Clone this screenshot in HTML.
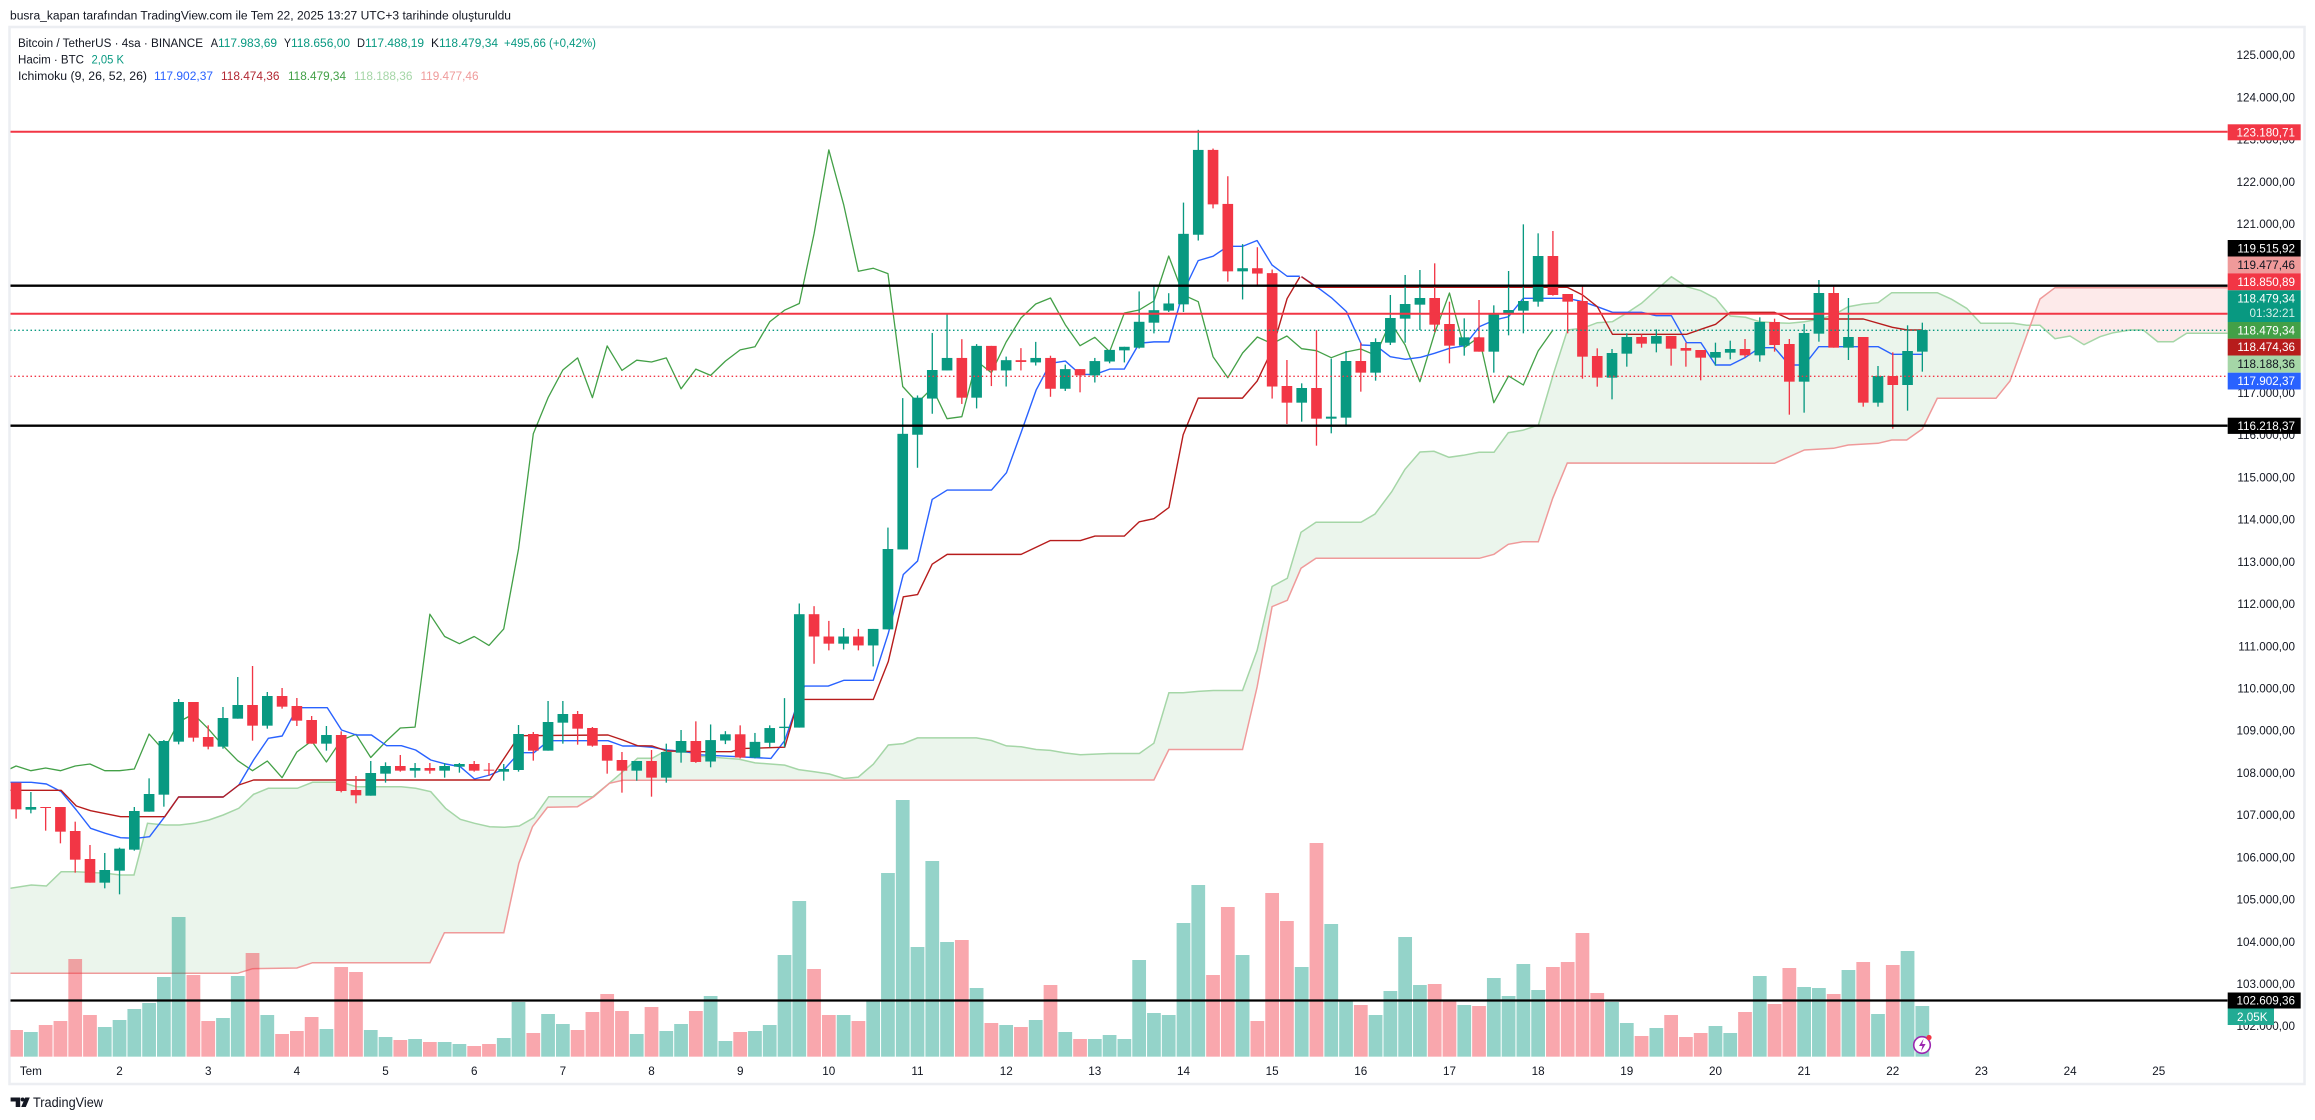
<!DOCTYPE html>
<html><head><meta charset="utf-8"><style>
html,body{margin:0;padding:0;background:#fff;}
svg{display:block;font-family:"Liberation Sans",sans-serif;}
</style></head><body>
<svg width="2315" height="1120" viewBox="0 0 2315 1120" xmlns="http://www.w3.org/2000/svg">
<defs><clipPath id="pc"><rect x="10.5" y="28" width="2217" height="1034"/></clipPath></defs>
<rect width="2315" height="1120" fill="#fff"/>
<rect x="9.5" y="27" width="2295" height="1057" fill="none" stroke="#eceef2" stroke-width="2.5"/>

<g clip-path="url(#pc)">
<!-- cloud fills -->
<polygon fill="#ebf5ec" points="10,888.3 31.3,885 46.4,886 61.2,871.7 76.3,871.7 105.4,873.3 120.5,875 134,875 147.5,823.3 164.7,825 179.5,825 194.2,823.3 208.9,820 223.2,815 238.8,808.3 253.6,794.3 268.3,788.3 297.3,788.3 312.5,782.3 341.5,782.3 356.3,786.7 401.3,786.7 415.6,788.3 430.8,791.7 445.5,808.3 460.3,819.3 474.6,823.3 489.7,826.7 504.5,827.3 519.2,826 533.9,817.7 548.7,796.7 592.9,796.7 608,784.3 622.8,771.7 637.5,758.3 652.2,758.3 667,750 696.4,753 699.8,756.2 739.3,759.3 755.1,762.9 784.7,765.1 798.6,769.6 814.4,771.8 829.4,774 844,778.5 858.3,777.1 873.3,764.2 888.3,745 903.3,743.6 917.5,737.9 976.4,737.9 991.5,740.5 1006.5,745.9 1021.1,746.8 1036.1,749.5 1050.4,750.4 1065.4,753 1080.4,754.8 1109.6,753.5 1139.3,753.5 1153.9,743.2 1168.9,692.8 1183.2,692.8 1198.2,691.4 1213.2,690.5 1242.5,690.5 1257.1,650.4 1272.1,586.5 1287.3,578.3 1301,532.3 1316,522.3 1361,522.3 1375,514 1391.7,491.7 1405,469.3 1420,452 1434,451.3 1449,457.3 1463.3,455.3 1479,452.3 1494,452.3 1508.3,432.7 1522.7,430.3 1538.4,425 1553.6,373.3 1567.5,330 1582.6,328.3 1597.3,322.7 1612.5,321.7 1626.4,313.3 1641.5,303.3 1656.3,290 1671.4,276.7 1686.6,286.7 1700.9,290.7 1715.6,298.3 1730.3,316 1745.5,317.3 1759.8,321.7 1774.5,322.7 1789.3,323.3 1804.4,321.7 1818.7,319.3 1833.5,315 1848.2,306.7 1863.3,304 1878.1,302.7 1891.7,292.7 1937.3,292.7 1951.7,299.3 1966.7,308.3 1980.7,323.3 2013.3,323.3 2026.7,325.3 2030.7,325 2010,381 1996,398.3 1937.3,398.3 1922.3,429 1906.7,440 1891.7,440 1878.1,443.3 1848.2,445 1833.5,448.3 1804.4,450 1789.3,456.7 1774.5,463.3 1567.3,463 1552.7,498.3 1538.3,541.7 1522.7,541.7 1508.3,544.3 1494,554.3 1479.3,558.3 1316,558.3 1301,568.3 1287.3,600.3 1272.1,606.6 1257.1,687 1242.5,749.5 1168.9,749.5 1153.9,780 622.8,780.3 609.4,783.3 593.8,796.7 577.5,806.7 547.5,807.3 532.5,826.7 518.8,863.3 503.8,932.7 444.4,932.7 430,962.7 312.5,962.7 296.9,968 252.5,968.7 237.5,973.3 10,973.3"/>
<polygon fill="#fdeaea" points="2030.7,325 2040,325.3 2055,338.7 2070,336 2084,344.7 2100,336.7 2113.3,332.7 2130,330 2143.3,330 2157.7,341.7 2173.3,341.7 2186.7,333.3 2228,333.3 2228,287.7 2055,287.7 2040,299"/>
<polyline fill="none" stroke="#a5d6a7" stroke-width="1.5" points="10,888.3 31.3,885 46.4,886 61.2,871.7 76.3,871.7 105.4,873.3 120.5,875 134,875 147.5,823.3 164.7,825 179.5,825 194.2,823.3 208.9,820 223.2,815 238.8,808.3 253.6,794.3 268.3,788.3 297.3,788.3 312.5,782.3 341.5,782.3 356.3,786.7 401.3,786.7 415.6,788.3 430.8,791.7 445.5,808.3 460.3,819.3 474.6,823.3 489.7,826.7 504.5,827.3 519.2,826 533.9,817.7 548.7,796.7 592.9,796.7 608,784.3 622.8,771.7 637.5,758.3 652.2,758.3 667,750 696.4,753 699.8,756.2 739.3,759.3 755.1,762.9 784.7,765.1 798.6,769.6 814.4,771.8 829.4,774 844,778.5 858.3,777.1 873.3,764.2 888.3,745 903.3,743.6 917.5,737.9 976.4,737.9 991.5,740.5 1006.5,745.9 1021.1,746.8 1036.1,749.5 1050.4,750.4 1065.4,753 1080.4,754.8 1109.6,753.5 1139.3,753.5 1153.9,743.2 1168.9,692.8 1183.2,692.8 1198.2,691.4 1213.2,690.5 1242.5,690.5 1257.1,650.4 1272.1,586.5 1287.3,578.3 1301,532.3 1316,522.3 1361,522.3 1375,514 1391.7,491.7 1405,469.3 1420,452 1434,451.3 1449,457.3 1463.3,455.3 1479,452.3 1494,452.3 1508.3,432.7 1522.7,430.3 1538.4,425 1553.6,373.3 1567.5,330 1582.6,328.3 1597.3,322.7 1612.5,321.7 1626.4,313.3 1641.5,303.3 1656.3,290 1671.4,276.7 1686.6,286.7 1700.9,290.7 1715.6,298.3 1730.3,316 1745.5,317.3 1759.8,321.7 1774.5,322.7 1789.3,323.3 1804.4,321.7 1818.7,319.3 1833.5,315 1848.2,306.7 1863.3,304 1878.1,302.7 1891.7,292.7 1937.3,292.7 1951.7,299.3 1966.7,308.3 1980.7,323.3 2013.3,323.3 2026.7,325.3 2040,325.3 2055,338.7 2070,336 2084,344.7 2100,336.7 2113.3,332.7 2130,330 2143.3,330 2157.7,341.7 2173.3,341.7 2186.7,333.3 2228,333.3"/>
<polyline fill="none" stroke="#ef9a9a" stroke-width="1.5" points="10,973.3 237.5,973.3 252.5,968.7 296.9,968 312.5,962.7 430,962.7 444.4,932.7 503.8,932.7 518.8,863.3 532.5,826.7 547.5,807.3 577.5,806.7 593.8,796.7 609.4,783.3 622.8,780.3 1153.9,780 1168.9,749.5 1242.5,749.5 1257.1,687 1272.1,606.6 1287.3,600.3 1301,568.3 1316,558.3 1479.3,558.3 1494,554.3 1508.3,544.3 1522.7,541.7 1538.3,541.7 1552.7,498.3 1567.3,463 1774.5,463.3 1789.3,456.7 1804.4,450 1833.5,448.3 1848.2,445 1878.1,443.3 1891.7,440 1906.7,440 1922.3,429 1937.3,398.3 1996,398.3 2010,381 2040,299 2055,287.7 2228,287.7"/>

<!-- volume -->
<g transform="matrix(14.777 0 0 0.333333 16.1 780)">
<g fill="#f23645" fill-opacity="0.44">
<rect x="-.465" y="750" width=".93" height="80"/><rect x="1.535" y="735" width=".93" height="95"/><rect x="2.535" y="723" width=".93" height="107"/><rect x="3.535" y="537" width=".93" height="293"/><rect x="4.535" y="705" width=".93" height="125"/><rect x="11.535" y="585" width=".93" height="245"/><rect x="12.535" y="723" width=".93" height="107"/><rect x="15.535" y="519" width=".93" height="311"/><rect x="17.535" y="762" width=".93" height="68"/><rect x="18.535" y="753" width=".93" height="77"/><rect x="19.535" y="711" width=".93" height="119"/><rect x="21.535" y="561" width=".93" height="269"/><rect x="22.535" y="576" width=".93" height="254"/><rect x="25.535" y="780" width=".93" height="50"/><rect x="27.535" y="786" width=".93" height="44"/><rect x="30.535" y="798" width=".93" height="32"/><rect x="31.535" y="792" width=".93" height="38"/><rect x="34.535" y="759" width=".93" height="71"/><rect x="37.535" y="750" width=".93" height="80"/><rect x="38.535" y="696" width=".93" height="134"/><rect x="39.535" y="642" width=".93" height="188"/><rect x="40.535" y="693" width=".93" height="137"/><rect x="42.535" y="681" width=".93" height="149"/><rect x="45.535" y="693" width=".93" height="137"/><rect x="48.535" y="756" width=".93" height="74"/><rect x="53.535" y="567" width=".93" height="263"/><rect x="54.535" y="705" width=".93" height="125"/><rect x="56.535" y="723" width=".93" height="107"/><rect x="63.535" y="480" width=".93" height="350"/><rect x="65.535" y="729" width=".93" height="101"/><rect x="67.535" y="741" width=".93" height="89"/><rect x="69.535" y="615" width=".93" height="215"/><rect x="71.535" y="777" width=".93" height="53"/><rect x="80.535" y="585" width=".93" height="245"/><rect x="81.535" y="381" width=".93" height="449"/><rect x="83.535" y="723" width=".93" height="107"/><rect x="84.535" y="339" width=".93" height="491"/><rect x="85.535" y="423" width=".93" height="407"/><rect x="87.535" y="189" width=".93" height="641"/><rect x="90.535" y="675" width=".93" height="155"/><rect x="95.535" y="612" width=".93" height="218"/><rect x="96.535" y="660" width=".93" height="170"/><rect x="98.535" y="678" width=".93" height="152"/><rect x="103.535" y="561" width=".93" height="269"/><rect x="104.535" y="546" width=".93" height="284"/><rect x="105.535" y="459" width=".93" height="371"/><rect x="106.535" y="639" width=".93" height="191"/><rect x="109.535" y="768" width=".93" height="62"/><rect x="111.535" y="705" width=".93" height="125"/><rect x="112.535" y="771" width=".93" height="59"/><rect x="113.535" y="759" width=".93" height="71"/><rect x="116.535" y="696" width=".93" height="134"/><rect x="118.535" y="672" width=".93" height="158"/><rect x="119.535" y="564" width=".93" height="266"/><rect x="122.535" y="642" width=".93" height="188"/><rect x="124.535" y="546" width=".93" height="284"/><rect x="126.535" y="555" width=".93" height="275"/>
</g>
<g fill="#089981" fill-opacity="0.43">
<rect x=".535" y="756" width=".93" height="74"/><rect x="5.535" y="741" width=".93" height="89"/><rect x="6.535" y="720" width=".93" height="110"/><rect x="7.535" y="687" width=".93" height="143"/><rect x="8.535" y="669" width=".93" height="161"/><rect x="9.535" y="591" width=".93" height="239"/><rect x="10.535" y="411" width=".93" height="419"/><rect x="13.535" y="714" width=".93" height="116"/><rect x="14.535" y="588" width=".93" height="242"/><rect x="16.535" y="705" width=".93" height="125"/><rect x="20.535" y="747" width=".93" height="83"/><rect x="23.535" y="750" width=".93" height="80"/><rect x="24.535" y="771" width=".93" height="59"/><rect x="26.535" y="777" width=".93" height="53"/><rect x="28.535" y="786" width=".93" height="44"/><rect x="29.535" y="792" width=".93" height="38"/><rect x="32.535" y="774" width=".93" height="56"/><rect x="33.535" y="666" width=".93" height="164"/><rect x="35.535" y="702" width=".93" height="128"/><rect x="36.535" y="732" width=".93" height="98"/><rect x="41.535" y="762" width=".93" height="68"/><rect x="43.535" y="753" width=".93" height="77"/><rect x="44.535" y="732" width=".93" height="98"/><rect x="46.535" y="648" width=".93" height="182"/><rect x="47.535" y="783" width=".93" height="47"/><rect x="49.535" y="753" width=".93" height="77"/><rect x="50.535" y="735" width=".93" height="95"/><rect x="51.535" y="525" width=".93" height="305"/><rect x="52.535" y="363" width=".93" height="467"/><rect x="55.535" y="705" width=".93" height="125"/><rect x="57.535" y="660" width=".93" height="170"/><rect x="58.535" y="279" width=".93" height="551"/><rect x="59.535" y="60" width=".93" height="770"/><rect x="60.535" y="501" width=".93" height="329"/><rect x="61.535" y="243" width=".93" height="587"/><rect x="62.535" y="486" width=".93" height="344"/><rect x="64.535" y="624" width=".93" height="206"/><rect x="66.535" y="735" width=".93" height="95"/><rect x="68.535" y="720" width=".93" height="110"/><rect x="70.535" y="756" width=".93" height="74"/><rect x="72.535" y="777" width=".93" height="53"/><rect x="73.535" y="765" width=".93" height="65"/><rect x="74.535" y="777" width=".93" height="53"/><rect x="75.535" y="540" width=".93" height="290"/><rect x="76.535" y="699" width=".93" height="131"/><rect x="77.535" y="705" width=".93" height="125"/><rect x="78.535" y="429" width=".93" height="401"/><rect x="79.535" y="315" width=".93" height="515"/><rect x="82.535" y="525" width=".93" height="305"/><rect x="86.535" y="561" width=".93" height="269"/><rect x="88.535" y="432" width=".93" height="398"/><rect x="89.535" y="660" width=".93" height="170"/><rect x="91.535" y="705" width=".93" height="125"/><rect x="92.535" y="633" width=".93" height="197"/><rect x="93.535" y="471" width=".93" height="359"/><rect x="94.535" y="615" width=".93" height="215"/><rect x="97.535" y="675" width=".93" height="155"/><rect x="99.535" y="594" width=".93" height="236"/><rect x="100.535" y="648" width=".93" height="182"/><rect x="101.535" y="552" width=".93" height="278"/><rect x="102.535" y="630" width=".93" height="200"/><rect x="107.535" y="666" width=".93" height="164"/><rect x="108.535" y="729" width=".93" height="101"/><rect x="110.535" y="744" width=".93" height="86"/><rect x="114.535" y="738" width=".93" height="92"/><rect x="115.535" y="759" width=".93" height="71"/><rect x="117.535" y="588" width=".93" height="242"/><rect x="120.535" y="621" width=".93" height="209"/><rect x="121.535" y="624" width=".93" height="206"/><rect x="123.535" y="570" width=".93" height="260"/><rect x="125.535" y="702" width=".93" height="128"/><rect x="127.535" y="513" width=".93" height="317"/><rect x="128.535" y="678" width=".93" height="152"/>
</g>
</g>

<!-- chikou -->
<g transform="matrix(14.777 0 0 1 16.1 0)">
<polyline fill="none" stroke="#43a047" stroke-width="1.3" vector-effect="non-scaling-stroke" stroke-linejoin="round" points="-1,773 0,766 1,770.7 2,768 3,770.7 4,766 5,764 6,770.7 7,770.7 8,769 9,734 10,750.7 11,722 12,714 13,728.7 14,745.7 15,760.7 16,770.7 17,761 18,777.7 19,752 20,741 21,762 22,740.1 23,734.3 24,757.5 25,741.9 26,728 27,727.1 28,614.2 29,636.5 30,643.7 31,636.5 32,645.4 33,628.9 34,549 35,433.8 36,397.7 37,370 38,357.9 39,397.7 40,345.9 41,370.4 42,360.2 43,362 44,357.9 45,388.8 46,369.1 47,375.4 48,361.1 49,349.9 50,346.8 51,321.8 52,310.2 53,303.5 54,233.8 55,149.9 56,204.4 57,271.3 58,268.2 59,273.6 60,386.5 61,402.7 62,388 63,418.7 64,416.7 65,361 66,372.7 67,342 68,318 69,304 70,298 71,324.7 72,345.7 73,337.3 74,351.7 75,313 76,310 77,301 78,256 79,295 80,301.7 81,356.7 82,377.7 83,353 84,337 85,343.7 86,336 87,348.7 88,350.7 89,357.7 90,352 91,349 92,355.3 93,322 94,345 95,381.7 96,333 97,293 98,347.7 99,337 100,402.7 101,376 102,385 103,351 104,330"/>
</g>

<!-- tenkan / kijun -->
<g transform="matrix(0.446429 0 0 0.333333 0 590)" fill="none" stroke-width="1.4" stroke-linejoin="round">
<polyline stroke="#2962ff" vector-effect="non-scaling-stroke" points="22,577 70,577 104,582 137,605 171,660 203,715 236,730 270,743 304,745 335,740 369,680 400,621 500,621 535,585 568,510 601,445 632,438 666,353 733,353 765,420 798,435 832,435 866,467 899,467 931,480 965,510 998,522 1031,530 1063,567 1097,555 1130,537 1163,488 1196,488 1229,452 1362,452 1395,468 1428,468 1461,472 1494,480 1528,484 1568,492"/>
<polyline stroke="#b71c1c" vector-effect="non-scaling-stroke" points="22,601 137,601 171,648 203,662 270,680 369,680 400,621 500,621 535,585 568,570 1097,570 1163,437 1362,435 1395,450 1428,467 1461,468 1494,483 1568,485"/>
</g>
<g transform="matrix(0.395257 0 0 0.446429 680 120)" fill="none" stroke-width="1.4" stroke-linejoin="round">
<polyline stroke="#2962ff" vector-effect="non-scaling-stroke" points="50,1422 230,1430 265,1390 300,1300 315,1268 375,1268 415,1255 489,1255 527,1150 565,1018 601,988 638,850 676,829 788,829 826,790 863,700 901,605 937,545 975,540 1013,570 1050,570 1087,558 1124,558 1162,500 1199,497 1237,497 1273,385 1311,315 1349,305 1386,283 1423,283 1460,270 1498,325 1536,350 1568,350"/>
<polyline stroke="#b71c1c" vector-effect="non-scaling-stroke" points="50,1415 130,1415 155,1408 265,1405 300,1298 489,1298 527,1213 565,1068 601,1063 638,995 676,973 863,973 937,942 1013,942 1050,932 1124,932 1162,900 1199,893 1237,868 1273,705 1311,623 1423,623 1460,585 1498,515 1536,400 1568,352"/>
</g>
<g transform="matrix(0.420875 0 0 0.333333 1280 120)" fill="none" stroke-width="1.4" stroke-linejoin="round">
<polyline stroke="#2962ff" vector-effect="non-scaling-stroke" points="51,470 87,500 122,533 158,575 194,675 228,677 262,710 298,718 334,712 367,700 403,685 438,677 474,620 510,600 543,590 578,535 683,535 719,545 754,560 790,577 859,577 894,587 930,587 966,668 1000,668 1035,735 1070,735 1106,712 1140,683 1175,683 1210,735 1246,735 1280,680 1421,680 1455,703 1526,703"/>
<polyline stroke="#b71c1c" vector-effect="non-scaling-stroke" points="51,470 87,502 683,502 719,525 754,560 790,643 966,643 1000,628 1035,613 1070,577 1175,577 1210,597 1386,597 1455,622 1491,630 1526,630"/>
</g>

<!-- candles G4 -->
<g transform="matrix(14.777 0 0 0.333333 16.1 590)">
<g fill="#f23645">
<rect x="-.045" y="578" width=".09" height="108"/><rect x="-.36" y="578" width=".72" height="80"/>
<rect x="1.955" y="651" width=".09" height="71"/><rect x="1.64" y="651" width=".72" height="3"/>
<rect x="2.955" y="651" width=".09" height="109"/><rect x="2.64" y="651" width=".72" height="74"/>
<rect x="3.955" y="695" width=".09" height="153"/><rect x="3.64" y="723" width=".72" height="86"/>
<rect x="4.955" y="765" width=".09" height="113"/><rect x="4.64" y="807" width=".72" height="71"/>
<rect x="11.955" y="336" width=".09" height="119"/><rect x="11.64" y="336" width=".72" height="107"/>
<rect x="12.955" y="406" width=".09" height="72"/><rect x="12.64" y="441" width=".72" height="29"/>
<rect x="15.955" y="228" width=".09" height="224"/><rect x="15.64" y="345" width=".72" height="62"/>
<rect x="17.955" y="294" width=".09" height="62"/><rect x="17.64" y="318" width=".72" height="32"/>
<rect x="18.955" y="324" width=".09" height="84"/><rect x="18.64" y="348" width=".72" height="44"/>
<rect x="19.955" y="378" width=".09" height="83"/><rect x="19.64" y="390" width=".72" height="71"/>
<rect x="21.955" y="424" width=".09" height="183"/><rect x="21.64" y="435" width=".72" height="168"/>
<rect x="22.955" y="558" width=".09" height="82"/><rect x="22.64" y="600" width=".72" height="16"/>
<rect x="25.955" y="495" width=".09" height="50"/><rect x="25.64" y="528" width=".72" height="14"/>
<rect x="27.955" y="519" width=".09" height="32"/><rect x="27.64" y="534" width=".72" height="8"/>
<rect x="30.955" y="513" width=".09" height="32"/><rect x="30.64" y="522" width=".72" height="20"/>
<rect x="31.955" y="519" width=".09" height="38"/><rect x="31.64" y="539" width=".72" height="3"/>
<rect x="34.955" y="426" width=".09" height="86"/><rect x="34.64" y="432" width=".72" height="50"/>
<rect x="37.955" y="363" width=".09" height="101"/><rect x="37.64" y="372" width=".72" height="44"/>
<rect x="38.955" y="411" width=".09" height="59"/><rect x="38.64" y="414" width=".72" height="53"/>
<rect x="39.955" y="465" width=".09" height="86"/><rect x="39.64" y="465" width=".72" height="47"/>
<rect x="40.955" y="486" width=".09" height="122"/><rect x="40.64" y="510" width=".72" height="32"/>
<rect x="42.955" y="480" width=".09" height="140"/><rect x="42.64" y="513" width=".72" height="50"/>
</g>
<g fill="#089981">
<rect x=".955" y="606" width=".09" height="64"/><rect x=".64" y="651" width=".72" height="8"/>
<rect x="5.955" y="789" width=".09" height="106"/><rect x="5.64" y="840" width=".72" height="38"/>
<rect x="6.955" y="773" width=".09" height="140"/><rect x="6.64" y="776" width=".72" height="66"/>
<rect x="7.955" y="651" width=".09" height="131"/><rect x="7.64" y="663" width=".72" height="116"/>
<rect x="8.955" y="565" width=".09" height="100"/><rect x="8.64" y="612" width=".72" height="53"/>
<rect x="9.955" y="450" width=".09" height="200"/><rect x="9.64" y="453" width=".72" height="161"/>
<rect x="10.955" y="327" width=".09" height="136"/><rect x="10.64" y="336" width=".72" height="119"/>
<rect x="13.955" y="351" width=".09" height="125"/><rect x="13.64" y="384" width=".72" height="86"/>
<rect x="14.955" y="261" width=".09" height="125"/><rect x="14.64" y="345" width=".72" height="41"/>
<rect x="16.955" y="306" width=".09" height="110"/><rect x="16.64" y="318" width=".72" height="89"/>
<rect x="20.955" y="408" width=".09" height="74"/><rect x="20.64" y="435" width=".72" height="26"/>
<rect x="23.955" y="513" width=".09" height="104"/><rect x="23.64" y="549" width=".72" height="68"/>
<rect x="24.955" y="517" width=".09" height="61"/><rect x="24.64" y="528" width=".72" height="23"/>
<rect x="26.955" y="519" width=".09" height="44"/><rect x="26.64" y="534" width=".72" height="8"/>
<rect x="28.955" y="519" width=".09" height="44"/><rect x="28.64" y="528" width=".72" height="14"/>
<rect x="29.955" y="519" width=".09" height="29"/><rect x="29.64" y="522" width=".72" height="8"/>
<rect x="32.955" y="522" width=".09" height="50"/><rect x="32.64" y="537" width=".72" height="8"/>
<rect x="33.955" y="405" width=".09" height="140"/><rect x="33.64" y="432" width=".72" height="108"/>
<rect x="35.955" y="333" width=".09" height="149"/><rect x="35.64" y="396" width=".72" height="86"/>
<rect x="36.955" y="333" width=".09" height="128"/><rect x="36.64" y="372" width=".72" height="26"/>
<rect x="41.955" y="513" width=".09" height="59"/><rect x="41.64" y="513" width=".72" height="29"/>
<rect x="43.955" y="461" width=".09" height="117"/><rect x="43.64" y="486" width=".72" height="77"/>
<rect x="44.955" y="420" width=".09" height="98"/><rect x="44.64" y="453" width=".72" height="35"/>
</g>
</g>

<!-- candles G5 -->
<g transform="matrix(14.777 0 0 0.446429 16.1 120)">
<g fill="#f23645">
<rect x="45.955" y="1347" width=".09" height="93"/><rect x="45.64" y="1391" width=".72" height="47"/>
<rect x="48.955" y="1356" width=".09" height="74"/><rect x="48.64" y="1376" width=".72" height="52"/>
<rect x="53.955" y="1089" width=".09" height="129"/><rect x="53.64" y="1107" width=".72" height="50"/>
<rect x="54.955" y="1122" width=".09" height="66"/><rect x="54.64" y="1157" width=".72" height="16"/>
<rect x="56.955" y="1140" width=".09" height="48"/><rect x="56.64" y="1157" width=".72" height="20"/>
<rect x="63.955" y="491" width=".09" height="145"/><rect x="63.64" y="533" width=".72" height="89"/>
<rect x="65.955" y="506" width=".09" height="90"/><rect x="65.64" y="506" width=".72" height="55"/>
<rect x="67.955" y="511" width=".09" height="50"/><rect x="67.64" y="538" width=".72" height="4"/>
<rect x="69.955" y="528" width=".09" height="92"/><rect x="69.64" y="533" width=".72" height="69"/>
<rect x="71.955" y="558" width=".09" height="52"/><rect x="71.64" y="558" width=".72" height="14"/>
<rect x="80.955" y="64" width=".09" height="134"/><rect x="80.64" y="67" width=".72" height="122"/>
<rect x="81.955" y="126" width=".09" height="236"/><rect x="81.64" y="188" width=".72" height="151"/>
<rect x="83.955" y="285" width=".09" height="87"/><rect x="83.64" y="332" width=".72" height="12"/>
<rect x="84.955" y="335" width=".09" height="289"/><rect x="84.64" y="343" width=".72" height="254"/>
</g>
<g fill="#089981">
<rect x="46.955" y="1354" width=".09" height="96"/><rect x="46.64" y="1389" width=".72" height="48"/>
<rect x="47.955" y="1369" width=".09" height="29"/><rect x="47.64" y="1376" width=".72" height="14"/>
<rect x="49.955" y="1373" width=".09" height="57"/><rect x="49.64" y="1393" width=".72" height="35"/>
<rect x="50.955" y="1356" width=".09" height="49"/><rect x="50.64" y="1362" width=".72" height="33"/>
<rect x="51.955" y="1295" width=".09" height="110"/><rect x="51.64" y="1359" width=".72" height="3"/>
<rect x="52.955" y="1083" width=".09" height="278"/><rect x="52.64" y="1107" width=".72" height="254"/>
<rect x="55.955" y="1138" width=".09" height="48"/><rect x="55.64" y="1157" width=".72" height="16"/>
<rect x="57.955" y="1140" width=".09" height="84"/><rect x="57.64" y="1140" width=".72" height="37"/>
<rect x="58.955" y="913" width=".09" height="228"/><rect x="58.64" y="961" width=".72" height="180"/>
<rect x="59.955" y="623" width=".09" height="339"/><rect x="59.64" y="703" width=".72" height="259"/>
<rect x="60.955" y="617" width=".09" height="162"/><rect x="60.64" y="622" width=".72" height="83"/>
<rect x="61.955" y="477" width=".09" height="181"/><rect x="61.64" y="560" width=".72" height="64"/>
<rect x="62.955" y="435" width=".09" height="126"/><rect x="62.64" y="533" width=".72" height="28"/>
<rect x="64.955" y="502" width=".09" height="144"/><rect x="64.64" y="506" width=".72" height="116"/>
<rect x="66.955" y="530" width=".09" height="67"/><rect x="66.64" y="538" width=".72" height="23"/>
<rect x="68.955" y="497" width=".09" height="53"/><rect x="68.64" y="533" width=".72" height="10"/>
<rect x="70.955" y="548" width=".09" height="59"/><rect x="70.64" y="558" width=".72" height="44"/>
<rect x="72.955" y="533" width=".09" height="55"/><rect x="72.64" y="540" width=".72" height="32"/>
<rect x="73.955" y="515" width=".09" height="30"/><rect x="73.64" y="515" width=".72" height="26"/>
<rect x="74.955" y="508" width=".09" height="35"/><rect x="74.64" y="508" width=".72" height="8"/>
<rect x="75.955" y="384" width=".09" height="128"/><rect x="75.64" y="452" width=".72" height="58"/>
<rect x="76.955" y="373" width=".09" height="105"/><rect x="76.64" y="426" width=".72" height="28"/>
<rect x="77.955" y="388" width=".09" height="42"/><rect x="77.64" y="411" width=".72" height="16"/>
<rect x="78.955" y="185" width=".09" height="245"/><rect x="78.64" y="255" width=".72" height="158"/>
<rect x="79.955" y="22" width=".09" height="248"/><rect x="79.64" y="67" width=".72" height="190"/>
<rect x="82.955" y="278" width=".09" height="124"/><rect x="82.64" y="332" width=".72" height="7"/>
</g>
</g>

<!-- candles G6 -->
<g transform="matrix(14.777 0 0 0.333333 16.1 120)">
<g fill="#f23645">
<rect x="85.955" y="720" width=".09" height="192"/><rect x="85.64" y="798" width=".72" height="50"/>
<rect x="87.955" y="631" width=".09" height="346"/><rect x="87.64" y="804" width=".72" height="92"/>
<rect x="90.955" y="668" width=".09" height="147"/><rect x="90.64" y="723" width=".72" height="35"/>
<rect x="95.955" y="430" width=".09" height="206"/><rect x="95.64" y="534" width=".72" height="80"/>
<rect x="96.955" y="545" width=".09" height="185"/><rect x="96.64" y="612" width=".72" height="65"/>
<rect x="98.955" y="540" width=".09" height="155"/><rect x="98.64" y="652" width=".72" height="43"/>
<rect x="103.955" y="333" width=".09" height="194"/><rect x="103.64" y="408" width=".72" height="117"/>
<rect x="104.955" y="522" width=".09" height="118"/><rect x="104.64" y="522" width=".72" height="23"/>
<rect x="105.955" y="498" width=".09" height="278"/><rect x="105.64" y="543" width=".72" height="167"/>
<rect x="106.955" y="685" width=".09" height="115"/><rect x="106.64" y="708" width=".72" height="65"/>
<rect x="109.955" y="643" width=".09" height="40"/><rect x="109.64" y="651" width=".72" height="20"/>
<rect x="111.955" y="648" width=".09" height="89"/><rect x="111.64" y="648" width=".72" height="38"/>
<rect x="112.955" y="668" width=".09" height="72"/><rect x="112.64" y="684" width=".72" height="8"/>
<rect x="113.955" y="690" width=".09" height="91"/><rect x="113.64" y="690" width=".72" height="23"/>
<rect x="116.955" y="657" width=".09" height="55"/><rect x="116.64" y="687" width=".72" height="19"/>
<rect x="118.955" y="596" width=".09" height="99"/><rect x="118.64" y="606" width=".72" height="69"/>
<rect x="119.955" y="657" width=".09" height="227"/><rect x="119.64" y="672" width=".72" height="113"/>
<rect x="122.955" y="500" width=".09" height="183"/><rect x="122.64" y="519" width=".72" height="164"/>
<rect x="124.955" y="651" width=".09" height="209"/><rect x="124.64" y="651" width=".72" height="197"/>
<rect x="126.955" y="697" width=".09" height="229"/><rect x="126.64" y="768" width=".72" height="27"/>
</g>
<g fill="#089981">
<rect x="86.955" y="790" width=".09" height="115"/><rect x="86.64" y="804" width=".72" height="44"/>
<rect x="88.955" y="716" width=".09" height="224"/><rect x="88.64" y="890" width=".72" height="6"/>
<rect x="89.955" y="693" width=".09" height="227"/><rect x="89.64" y="723" width=".72" height="170"/>
<rect x="91.955" y="655" width=".09" height="127"/><rect x="91.64" y="666" width=".72" height="92"/>
<rect x="92.955" y="525" width=".09" height="150"/><rect x="92.64" y="594" width=".72" height="74"/>
<rect x="93.955" y="465" width=".09" height="203"/><rect x="93.64" y="552" width=".72" height="44"/>
<rect x="94.955" y="450" width=".09" height="180"/><rect x="94.64" y="534" width=".72" height="20"/>
<rect x="97.955" y="595" width=".09" height="112"/><rect x="97.64" y="652" width=".72" height="25"/>
<rect x="99.955" y="556" width=".09" height="202"/><rect x="99.64" y="579" width=".72" height="116"/>
<rect x="100.955" y="453" width=".09" height="193"/><rect x="100.64" y="570" width=".72" height="11"/>
<rect x="101.955" y="313" width=".09" height="327"/><rect x="101.64" y="543" width=".72" height="29"/>
<rect x="102.955" y="340" width=".09" height="220"/><rect x="102.64" y="408" width=".72" height="137"/>
<rect x="107.955" y="687" width=".09" height="151"/><rect x="107.64" y="699" width=".72" height="74"/>
<rect x="108.955" y="640" width=".09" height="100"/><rect x="108.64" y="651" width=".72" height="50"/>
<rect x="110.955" y="628" width=".09" height="69"/><rect x="110.64" y="648" width=".72" height="23"/>
<rect x="114.955" y="668" width=".09" height="69"/><rect x="114.64" y="696" width=".72" height="17"/>
<rect x="115.955" y="662" width=".09" height="56"/><rect x="115.64" y="687" width=".72" height="11"/>
<rect x="117.955" y="592" width=".09" height="133"/><rect x="117.64" y="606" width=".72" height="100"/>
<rect x="120.955" y="612" width=".09" height="266"/><rect x="120.64" y="639" width=".72" height="146"/>
<rect x="121.955" y="480" width=".09" height="185"/><rect x="121.64" y="519" width=".72" height="122"/>
<rect x="123.955" y="534" width=".09" height="186"/><rect x="123.64" y="651" width=".72" height="32"/>
<rect x="125.955" y="738" width=".09" height="122"/><rect x="125.64" y="768" width=".72" height="80"/>
<rect x="127.955" y="616" width=".09" height="256"/><rect x="127.64" y="693" width=".72" height="102"/>
<rect x="128.955" y="608" width=".09" height="147"/><rect x="128.64" y="630" width=".72" height="65"/>
</g>
</g>

<!-- dotted price lines -->
<line x1="10" y1="330.3" x2="2228" y2="330.3" stroke="#089981" stroke-width="1.4" stroke-dasharray="1.5 2.6"/>
<line x1="10" y1="376.3" x2="2228" y2="376.3" stroke="#f23645" stroke-width="1.4" stroke-dasharray="1.5 2.6"/>
<!-- horizontal drawings -->
<line x1="10" y1="131.7" x2="2228" y2="131.7" stroke="#f23645" stroke-width="2"/>
<line x1="10" y1="313.7" x2="2228" y2="313.7" stroke="#f23645" stroke-width="2"/>
<line x1="10" y1="285.7" x2="2228" y2="285.7" stroke="#000" stroke-width="2.3"/>
<line x1="10" y1="425.7" x2="2228" y2="425.7" stroke="#000" stroke-width="2.3"/>
<line x1="10" y1="1000.5" x2="2228" y2="1000.5" stroke="#000" stroke-width="2.3"/>

<!-- alert icon -->
<circle cx="1922" cy="1045" r="8.3" fill="#fff" stroke="#9c27b0" stroke-width="1.6"/>
<path d="M1923.6 1038.6 l-4.6 7.4 h3.4 l-1.4 5.6 l4.6 -7.6 h-3.4 z" fill="#9c27b0"/>
<circle cx="1929" cy="1037.5" r="2.6" fill="#f23645"/>
</g>

<!-- header & legend -->
<g font-size="11.5" fill="#131722">
<text x="10" y="19.5" textLength="501" lengthAdjust="spacingAndGlyphs">busra_kapan tarafından TradingView.com ile Tem 22, 2025 13:27 UTC+3 tarihinde oluşturuldu</text>
<text x="18" y="46.8" textLength="185" lengthAdjust="spacingAndGlyphs">Bitcoin / TetherUS · 4sa · BINANCE</text>
<text x="210.7" y="46.8" textLength="7.3" lengthAdjust="spacingAndGlyphs">A</text>
<text x="218" y="46.8" textLength="59" lengthAdjust="spacingAndGlyphs" fill="#089981">117.983,69</text>
<text x="284" y="46.8" textLength="7" lengthAdjust="spacingAndGlyphs">Y</text>
<text x="291" y="46.8" textLength="59" lengthAdjust="spacingAndGlyphs" fill="#089981">118.656,00</text>
<text x="357" y="46.8" textLength="8" lengthAdjust="spacingAndGlyphs">D</text>
<text x="365" y="46.8" textLength="59" lengthAdjust="spacingAndGlyphs" fill="#089981">117.488,19</text>
<text x="431" y="46.8" textLength="8" lengthAdjust="spacingAndGlyphs">K</text>
<text x="439" y="46.8" textLength="59" lengthAdjust="spacingAndGlyphs" fill="#089981">118.479,34</text>
<text x="504" y="46.8" textLength="92" lengthAdjust="spacingAndGlyphs" fill="#089981">+495,66 (+0,42%)</text>
<text x="18" y="63.4" textLength="66" lengthAdjust="spacingAndGlyphs">Hacim · BTC</text>
<text x="91.5" y="63.4" textLength="32.5" lengthAdjust="spacingAndGlyphs" fill="#089981">2,05 K</text>
<text x="18" y="80.1" textLength="129" lengthAdjust="spacingAndGlyphs">Ichimoku (9, 26, 52, 26)</text>
<text x="154" y="80.1" textLength="59" lengthAdjust="spacingAndGlyphs" fill="#2962ff">117.902,37</text>
<text x="221" y="80.1" textLength="58.5" lengthAdjust="spacingAndGlyphs" fill="#b22833">118.474,36</text>
<text x="288" y="80.1" textLength="58" lengthAdjust="spacingAndGlyphs" fill="#43a047">118.479,34</text>
<text x="354" y="80.1" textLength="58.5" lengthAdjust="spacingAndGlyphs" fill="#a5d6a7">118.188,36</text>
<text x="420.5" y="80.1" textLength="58" lengthAdjust="spacingAndGlyphs" fill="#ef9a9a">119.477,46</text>
</g>

<!-- price axis ticks -->
<g font-size="11.7" fill="#131722" text-anchor="end">
<text x="2295" y="59.1">125.000,00</text>
<text x="2295" y="101.3">124.000,00</text>
<text x="2295" y="143.6">123.000,00</text>
<text x="2295" y="185.8">122.000,00</text>
<text x="2295" y="228">121.000,00</text>
<text x="2295" y="396.9">117.000,00</text>
<text x="2295" y="439.2">116.000,00</text>
<text x="2295" y="481.4">115.000,00</text>
<text x="2295" y="523.6">114.000,00</text>
<text x="2295" y="565.8">113.000,00</text>
<text x="2295" y="608">112.000,00</text>
<text x="2295" y="650.3">111.000,00</text>
<text x="2295" y="692.5">110.000,00</text>
<text x="2295" y="734.7">109.000,00</text>
<text x="2295" y="776.9">108.000,00</text>
<text x="2295" y="819.2">107.000,00</text>
<text x="2295" y="861.4">106.000,00</text>
<text x="2295" y="903.6">105.000,00</text>
<text x="2295" y="945.8">104.000,00</text>
<text x="2295" y="988">103.000,00</text>
<text x="2295" y="1030.2">102.000,00</text>
</g>
<!-- price axis labels -->
<g font-size="11.7" text-anchor="end">
<rect x="2227.7" y="124.3" width="73" height="16" fill="#f23645"/><text x="2295" y="136.4" fill="#fff">123.180,71</text>
<rect x="2227.7" y="240" width="73" height="16.5" fill="#000"/><text x="2295" y="252.4" fill="#fff">119.515,92</text>
<rect x="2227.7" y="256.5" width="73" height="16.8" fill="#ef9a9a"/><text x="2295" y="269" fill="#131722">119.477,46</text>
<rect x="2227.7" y="273.3" width="73" height="17" fill="#f23645"/><text x="2295" y="285.9" fill="#fff">118.850,89</text>
<rect x="2227.7" y="290.3" width="73" height="31.7" fill="#089981"/><text x="2295" y="302.5" fill="#fff">118.479,34</text><text x="2295" y="317" fill="#d4efe9">01:32:21</text>
<rect x="2227.7" y="322" width="73" height="16.7" fill="#43a047"/><text x="2295" y="334.4" fill="#fff">118.479,34</text>
<rect x="2227.7" y="338.7" width="73" height="16.8" fill="#b71c1c"/><text x="2295" y="351.2" fill="#fff">118.474,36</text>
<rect x="2227.7" y="355.5" width="73" height="17.2" fill="#a5d6a7"/><text x="2295" y="368.2" fill="#131722">118.188,36</text>
<rect x="2227.7" y="372.7" width="73" height="16.8" fill="#2962ff"/><text x="2295" y="385.2" fill="#fff">117.902,37</text>
<rect x="2227.7" y="417.7" width="73" height="16.2" fill="#000"/><text x="2295" y="430" fill="#fff">116.218,37</text>
<rect x="2227.7" y="992.5" width="73" height="16" fill="#000"/><text x="2295" y="1004.7" fill="#fff">102.609,36</text>
<rect x="2227.7" y="1008.5" width="46.3" height="16.5" fill="#22ab94"/><text x="2267.5" y="1021" fill="#fff">2,05K</text>
</g>

<!-- time axis -->
<g font-size="11.7" fill="#131722" text-anchor="middle">
<text x="30.9" y="1075">Tem</text>
<text x="119.5" y="1075">2</text>
<text x="208.2" y="1075">3</text>
<text x="296.9" y="1075">4</text>
<text x="385.5" y="1075">5</text>
<text x="474.2" y="1075">6</text>
<text x="562.9" y="1075">7</text>
<text x="651.5" y="1075">8</text>
<text x="740.2" y="1075">9</text>
<text x="828.8" y="1075">10</text>
<text x="917.5" y="1075">11</text>
<text x="1006.2" y="1075">12</text>
<text x="1094.8" y="1075">13</text>
<text x="1183.5" y="1075">14</text>
<text x="1272.1" y="1075">15</text>
<text x="1360.8" y="1075">16</text>
<text x="1449.5" y="1075">17</text>
<text x="1538.1" y="1075">18</text>
<text x="1626.8" y="1075">19</text>
<text x="1715.5" y="1075">20</text>
<text x="1804.1" y="1075">21</text>
<text x="1892.8" y="1075">22</text>
<text x="1981.4" y="1075">23</text>
<text x="2070.1" y="1075">24</text>
<text x="2158.8" y="1075">25</text>
</g>

<!-- TradingView logo -->
<g fill="#131722">
<path d="M10.6 1097.5h9.6v9.5h-4.5v-5.5h-5.1z"/>
<circle cx="22.6" cy="1099.5" r="2"/>
<path d="M25.2 1097.5h4.6l-4 9.5h-4.6z"/>
<text x="33" y="1107" font-size="13.5" textLength="70" lengthAdjust="spacingAndGlyphs">TradingView</text>
</g>
</svg>
</body></html>
